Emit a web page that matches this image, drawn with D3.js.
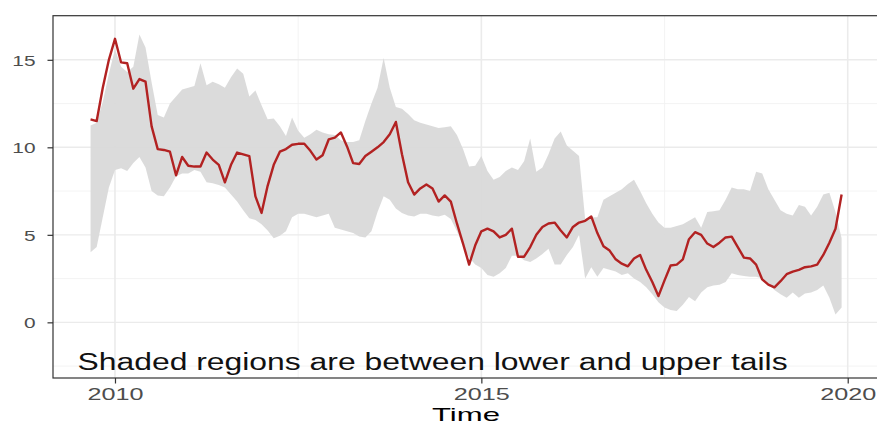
<!DOCTYPE html>
<html>
<head>
<meta charset="utf-8">
<script src="https://cdn.jsdelivr.net/npm/d3@7"></script>
<style>
  html, body { margin: 0; padding: 0; background: #ffffff; }
  svg { display: block; }
  text { font-family: "Liberation Sans", Arial, Helvetica, sans-serif; }
</style>
</head>
<body>
<svg id="chart" width="877" height="425"></svg>
<script>
// Monthly series, September 2009 through December 2019
const startYear = 2009;
const startMonth = 9;

const central = [
  11.6, 11.5, 13.4, 15.0,
  16.2, 14.85, 14.8, 13.35, 13.9, 13.75, 11.2, 9.9, 9.85, 9.75, 8.4, 9.45,
  8.95, 8.9, 8.9, 9.7, 9.3, 9.0, 8.0, 9.0, 9.7, 9.6, 9.5, 7.2,
  6.25, 7.8, 9.0, 9.75, 9.9, 10.15, 10.2, 10.2, 9.8, 9.3, 9.55, 10.45,
  10.55, 10.85, 10.05, 9.1, 9.05, 9.5, 9.75, 10.0, 10.3, 10.75, 11.45, 9.6,
  8.0, 7.3, 7.65, 7.88, 7.65, 6.9, 7.25, 6.9, 5.65, 4.5, 3.3, 4.4,
  5.2, 5.35, 5.2, 4.85, 5.0, 5.35, 3.75, 3.75, 4.3, 5.0, 5.45, 5.65,
  5.7, 5.25, 4.85, 5.45, 5.7, 5.8, 6.05, 5.1, 4.35, 4.1, 3.6, 3.35,
  3.2, 3.65, 3.85, 3.0, 2.3, 1.5, 2.4, 3.25, 3.3, 3.6, 4.75, 5.15,
  5.0, 4.5, 4.3, 4.55, 4.85, 4.9, 4.3, 3.7, 3.65, 3.3, 2.45, 2.15,
  2.0, 2.35, 2.75, 2.9, 3.0, 3.15, 3.2, 3.3, 3.85, 4.55, 5.35, 7.3
];

const upperTail = [
  11.25, 11.4, 12.6, 14.2,
  15.6, 14.6, 14.3, 14.6, 16.45, 15.7, 13.7, 11.85, 11.7, 12.5, 12.9, 13.3,
  13.4, 13.5, 14.8, 13.55, 13.75, 13.6, 13.4, 14.0, 14.5, 14.2, 12.9, 13.25,
  12.4, 11.6, 11.65, 11.2, 10.65, 11.7, 10.95, 10.55, 10.75, 11.0, 10.85, 10.75,
  10.7, 10.4, 10.3, 10.3, 10.4, 11.5, 12.5, 13.4, 15.1, 13.4, 12.3, 12.2,
  11.9, 11.55, 11.4, 11.3, 11.2, 11.1, 11.15, 11.2, 10.7, 9.9, 8.9, 8.95,
  9.5, 8.65, 8.15, 8.3, 8.65, 8.85, 8.7, 9.2, 10.5, 8.6, 8.85, 9.6,
  10.5, 10.9, 10.1, 9.8, 9.5, 5.9, 6.0, 6.0, 7.0, 7.2, 7.4, 7.6,
  7.9, 8.15, 7.5, 6.8, 6.2, 5.7, 5.4, 5.4, 5.5, 5.6, 5.8, 6.0,
  5.4, 6.3, 6.35, 6.4, 7.0, 7.7, 7.6, 7.6, 7.5, 8.6, 8.5, 7.6,
  7.0, 6.4, 6.2, 6.1, 6.7, 6.6, 6.1, 6.6, 7.3, 7.4, 6.3, 4.8
];

const lowerTail = [
  4.0, 4.3, 6.0, 7.7,
  8.7, 8.8, 8.65, 9.1, 9.45, 8.85, 7.5, 7.25, 7.2, 7.7, 8.35, 8.5,
  8.5, 8.7, 8.6, 8.0, 7.95, 7.85, 7.7, 7.3, 6.9, 6.4, 5.95, 5.85,
  5.6, 5.25, 4.8, 4.95, 5.2, 6.0, 6.2, 6.2, 6.1, 6.0, 6.1, 6.2,
  5.4, 5.3, 5.2, 5.1, 4.9, 4.85, 5.2, 6.3, 7.2, 7.0, 6.5, 6.25,
  6.1, 6.05, 6.2, 6.2, 6.1, 6.05, 6.15, 5.9, 5.2, 4.4, 3.7, 3.3,
  3.1, 2.7, 2.6, 2.8, 3.1, 3.8, 3.8, 3.55, 3.45, 3.65, 3.9, 4.2,
  3.3, 3.3, 3.85, 4.3, 5.0, 2.5, 3.15, 2.6, 3.1, 3.0, 2.9, 2.7,
  2.8, 2.5, 2.3, 2.0, 1.6, 1.15, 0.85, 0.7, 0.65, 1.0, 1.45, 1.2,
  1.7, 2.0, 2.1, 2.15, 2.3, 2.8, 2.7, 2.65, 2.6, 2.6, 2.5, 2.2,
  1.85, 1.6, 1.4, 1.7, 1.4, 1.65, 1.7, 1.85, 2.1, 1.4, 0.45, 0.85
];

const yTicks = [0, 5, 10, 15];
const yMinor = [-2.5, 2.5, 7.5, 12.5];
const xTicks = [2010, 2015, 2020];
const xMinor = [2012.5, 2017.5];
const xTitle = "Time";
const note = "Shaded regions are between lower and upper tails";

// decimal time for each monthly observation
const rows = central.map((v, i) => {
  const m = startMonth - 1 + i;
  return {
    t: startYear + m / 12,
    mid: v,
    lo: lowerTail[i],
    hi: upperTail[i]
  };
});

const svg = d3.select("#chart");
const panel = { left: 53, right: 879, top: 15.7, bottom: 378 };

const x = d3.scaleLinear().domain([2009.154, 2020.427]).range([panel.left, panel.right]);
const y = d3.scaleLinear().domain([-3.18, 17.52]).range([panel.bottom, panel.top]);

const grid = svg.append("g");
// minor grid
grid.selectAll(".hmin").data(yMinor).join("line")
  .attr("x1", panel.left).attr("x2", panel.right)
  .attr("y1", d => y(d)).attr("y2", d => y(d))
  .attr("stroke", "#f0f0f0").attr("stroke-width", 0.8);
grid.selectAll(".vmin").data(xMinor).join("line")
  .attr("y1", panel.top).attr("y2", panel.bottom)
  .attr("x1", d => x(d)).attr("x2", d => x(d))
  .attr("stroke", "#f0f0f0").attr("stroke-width", 0.8);
// major grid
grid.selectAll(".hmaj").data(yTicks).join("line")
  .attr("x1", panel.left).attr("x2", panel.right)
  .attr("y1", d => y(d)).attr("y2", d => y(d))
  .attr("stroke", "#ebebeb").attr("stroke-width", 1.4);
grid.selectAll(".vmaj").data(xTicks).join("line")
  .attr("y1", panel.top).attr("y2", panel.bottom)
  .attr("x1", d => x(d)).attr("x2", d => x(d))
  .attr("stroke", "#ebebeb").attr("stroke-width", 1.6);

// shaded band between the tails
const band = d3.area()
  .x(d => x(d.t))
  .y0(d => y(d.lo))
  .y1(d => y(d.hi));
svg.append("path").datum(rows)
  .attr("d", band)
  .attr("fill", "#d9d9d9")
  .attr("fill-opacity", 0.95);

// central series
const line = d3.line().x(d => x(d.t)).y(d => y(d.mid));
svg.append("path").datum(rows)
  .attr("d", line)
  .attr("fill", "none")
  .attr("stroke", "#b22222")
  .attr("stroke-width", 2.4)
  .attr("stroke-linejoin", "round");

// note inside the panel
svg.append("text")
  .attr("x", x(2009.49)).attr("y", 369.5)
  .attr("font-size", 23)
  .attr("fill", "#111111")
  .attr("textLength", 710)
  .attr("lengthAdjust", "spacingAndGlyphs")
  .text(note);

// panel border
svg.append("rect")
  .attr("x", panel.left).attr("y", panel.top)
  .attr("width", panel.right - panel.left)
  .attr("height", panel.bottom - panel.top)
  .attr("fill", "none")
  .attr("stroke", "#333333")
  .attr("stroke-width", 1.2);

// axes
const yAxis = d3.axisLeft(y).tickValues(yTicks).tickSize(5.5).tickPadding(12).tickFormat(d3.format("d"));
const gy = svg.append("g").attr("transform", `translate(${panel.left},0)`).call(yAxis);
gy.select(".domain").remove();
gy.selectAll(".tick line").attr("stroke", "#333333").attr("stroke-width", 1.2);
gy.selectAll(".tick text")
  .attr("font-size", 15.5)
  .attr("fill", "#4d4d4d")
  .attr("dy", "0.36em")
  .attr("textLength", d => String(d).length * 11.6)
  .attr("lengthAdjust", "spacingAndGlyphs");

const xAxis = d3.axisBottom(x).tickValues(xTicks).tickSize(5.5).tickPadding(5).tickFormat(d3.format("d"));
const gx = svg.append("g").attr("transform", `translate(0,${panel.bottom})`).call(xAxis);
gx.select(".domain").remove();
gx.selectAll(".tick line").attr("stroke", "#333333").attr("stroke-width", 1.2);
gx.selectAll(".tick text")
  .attr("font-size", 16.5)
  .attr("fill", "#4d4d4d")
  .attr("dy", "0.71em")
  .attr("textLength", 56)
  .attr("lengthAdjust", "spacingAndGlyphs");

// axis title
svg.append("text")
  .attr("x", (panel.left + panel.right) / 2)
  .attr("y", 420.8)
  .attr("text-anchor", "middle")
  .attr("font-size", 18.5)
  .attr("fill", "#000000")
  .attr("textLength", 68)
  .attr("lengthAdjust", "spacingAndGlyphs")
  .text(xTitle);
</script>
</body>
</html>
